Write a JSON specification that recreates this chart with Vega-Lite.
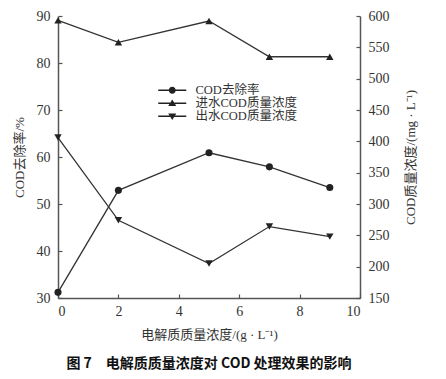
{
  "$schema": "https://vega.github.io/schema/vega-lite/v6.json",
  "width": 302,
  "height": 282,
  "autosize": "none",
  "padding": {"left": 58, "top": 16, "right": 86, "bottom": 81},
  "background": "white",
  "config": {
    "view": {"stroke": null},
    "font": "Liberation Serif, Noto Sans CJK SC",
    "axis": {
      "grid": false,
      "domainColor": "#555",
      "domainWidth": 1.5,
      "tickColor": "#555",
      "tickWidth": 1.2,
      "labelColor": "#333",
      "labelFont": "Liberation Serif",
      "labelFontSize": 14,
      "titleColor": "#333",
      "titleFont": "Liberation Serif, Noto Sans CJK SC",
      "titleFontSize": 13,
      "titleFontWeight": "normal"
    }
  },
  "title": {
    "text": "图 7　电解质质量浓度对 COD 处理效果的影响",
    "orient": "bottom",
    "anchor": "middle",
    "font": "Noto Sans CJK SC",
    "fontSize": 14,
    "fontWeight": "bold",
    "color": "#111",
    "offset": 16
  },
  "datasets": {
    "d": [
      {"x": 0, "series": "COD去除率", "v": 31.2},
      {"x": 2, "series": "COD去除率", "v": 52.9},
      {"x": 5, "series": "COD去除率", "v": 60.9},
      {"x": 7, "series": "COD去除率", "v": 57.9},
      {"x": 9, "series": "COD去除率", "v": 53.5},
      {"x": 0, "series": "进水COD质量浓度", "v": 593},
      {"x": 2, "series": "进水COD质量浓度", "v": 558},
      {"x": 5, "series": "进水COD质量浓度", "v": 592},
      {"x": 7, "series": "进水COD质量浓度", "v": 535},
      {"x": 9, "series": "进水COD质量浓度", "v": 535},
      {"x": 0, "series": "出水COD质量浓度", "v": 406},
      {"x": 2, "series": "出水COD质量浓度", "v": 274},
      {"x": 5, "series": "出水COD质量浓度", "v": 205},
      {"x": 7, "series": "出水COD质量浓度", "v": 264},
      {"x": 9, "series": "出水COD质量浓度", "v": 248}
    ]
  },
  "data": {"name": "d"},
  "encoding": {
    "x": {
      "field": "x",
      "type": "quantitative",
      "scale": {"domain": [0, 10], "nice": false},
      "axis": {
        "values": [0, 2, 4, 6, 8, 10],
        "tickSize": -4,
        "labelPadding": 10,
        "title": "电解质质量浓度/(g · L⁻¹)",
        "titleFontSize": 13,
        "titlePadding": 10
      }
    }
  },
  "layer": [
    {
      "transform": [{"filter": "datum.series === 'COD去除率'"}],
      "encoding": {
        "y": {
          "field": "v",
          "type": "quantitative",
          "scale": {"domain": [30, 90], "nice": false, "zero": false},
          "axis": {
            "orient": "left",
            "values": [30, 40, 50, 60, 70, 80, 90],
            "tickSize": -4,
            "labelPadding": 12,
            "title": "COD去除率/%",
            "titlePadding": 10
          }
        }
      },
      "layer": [
        {"mark": {"type": "line", "color": "#333", "strokeWidth": 1.3}},
        {"mark": {"type": "point", "shape": "circle", "filled": true, "color": "#222", "size": 50, "opacity": 1}},
        {
          "mark": {"type": "point", "filled": true, "color": "#222", "opacity": 0},
          "encoding": {
            "shape": {
              "field": "series",
              "type": "nominal",
              "scale": {
                "domain": ["COD去除率", "进水COD质量浓度", "出水COD质量浓度"],
                "range": [
                  "M-4,-0.19H-0.95V0.19H-4Z M0.95,-0.19H4V0.19H0.95Z M1,0A1,1 0 1,1 -1,0A1,1 0 1,1 1,0Z",
                  "M-4,-0.19H-0.6V0.19H-4Z M0.6,-0.19H4V0.19H0.6Z M0,-1.1L1.15,0.8L-1.15,0.8Z",
                  "M-4,-0.19H-0.6V0.19H-4Z M0.6,-0.19H4V0.19H0.6Z M0,1.1L-1.15,-0.8L1.15,-0.8Z"
                ]
              },
              "legend": {
                "title": null,
                "orient": "none",
                "legendX": 108,
                "legendY": 68,
                "symbolSize": 49,
                "symbolOpacity": 1,
                "labelFont": "Liberation Serif, Noto Sans CJK SC",
                "labelFontSize": 12.5,
                "labelColor": "#333",
                "labelOffset": 17,
                "rowPadding": -2.5,
                "padding": 0,
                "encode": {
                  "symbols": {
                    "update": {
                      "fill": {"value": "#222"},
                      "opacity": {"value": 1}
                    }
                  }
                }
              }
            }
          }
        }
      ]
    },
    {
      "transform": [{"filter": "datum.series !== 'COD去除率'"}],
      "encoding": {
        "y": {
          "field": "v",
          "type": "quantitative",
          "scale": {"domain": [150, 600], "nice": false, "zero": false},
          "axis": {
            "orient": "right",
            "values": [150, 200, 250, 300, 350, 400, 450, 500, 550, 600],
            "tickSize": -4,
            "labelPadding": 12,
            "title": "COD质量浓度/(mg · L⁻¹)",
            "titleAngle": 270,
            "titlePadding": 28
          }
        }
      },
      "layer": [
        {"mark": {"type": "line", "color": "#333", "strokeWidth": 1.3}, "encoding": {"detail": {"field": "series"}}},
        {
          "mark": {"type": "point", "filled": true, "color": "#222", "size": 55, "opacity": 1},
          "encoding": {
            "shape": {
              "field": "series",
              "type": "nominal",
              "scale": {"domain": ["进水COD质量浓度", "出水COD质量浓度"], "range": ["triangle-up", "triangle-down"]},
              "legend": null
            }
          }
        }
      ]
    }
  ],
  "resolve": {"scale": {"y": "independent", "shape": "independent"}}
}
